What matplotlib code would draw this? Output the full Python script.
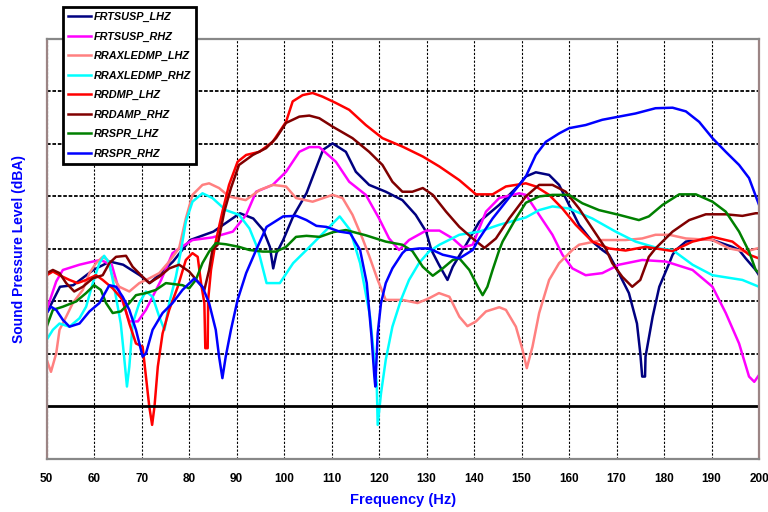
import matplotlib
matplotlib.use("Agg")
import matplotlib.pyplot as plt

plt.rcParams['font.family'] = ['Liberation Sans', 'DejaVu Sans']

# FRTSUSP_LHZ
f_frt_l = [50, 52.8, 55.6, 59.8, 63.3, 66.1, 69.6, 71.7, 73.2, 76.6, 80.2, 85.1, 90.7, 93.5, 95.6, 97.0,
           97.7, 98.4, 99.8, 101.9, 104.7, 108.2, 110.2, 113.0, 115.1, 117.9, 121.4, 124.9, 127.7, 129.9,
           131.0, 132.6, 134.4, 135.5, 137.6, 138.3, 141.1, 145.3, 149.5, 150.9, 153.0, 155.8, 157.9, 160.0,
           162.1, 164.9, 167.0, 168.4, 169.8, 172.6, 174.3, 175.0, 175.4, 176.0, 176.1, 177.6, 179.0, 181.1,
           181.8, 182.5, 184.6, 188.1, 190.2, 194.4, 195.8, 197.2, 199.3, 200]
y_frt_l = [47.8, 52.8, 53.1, 56, 57.6, 57, 55, 53.5, 54.7, 57.6, 61.7, 63.3, 66.8, 65.8, 63.6, 60.4,
           56.3, 59.2, 61.7, 66.2, 70.6, 78.9, 80.1, 78.5, 74.7, 72.2, 70.9, 69.3, 66.5, 63.3,
           59.8, 57, 54.1, 56.6, 59.8, 60.8, 65.2, 68.4, 72.2, 73.8, 74.6, 74.1, 72.2, 68.4,
           64.6, 61.4, 59.8, 58.9, 56.6, 51.6, 45.8, 40.1, 35.7, 35.7, 39.5, 47.1, 52.8, 57.3,
           58.9, 59.8, 61.4, 61.9, 61.7, 60.4, 59.8, 58.2, 56, 55]

# FRTSUSP_RHZ
f_frt_r = [50, 52, 53.4, 56.9, 59.7, 61.4, 62.8, 63.7, 65.4, 67.4, 69.2, 70.9, 72.3, 74.1, 76.5, 77.9,
           80.7, 84.9, 89.2, 92, 94.1, 97.6, 100.4, 103.2, 105.3, 107.4, 110.9, 113.7, 117.2, 120,
           122.1, 124.2, 126.3, 129.9, 132.7, 135.5, 137.6, 139.7, 142.5, 145.3, 149.5, 150.9, 153.7,
           156.5, 158.6, 160.7, 163.5, 167, 170.5, 175.4, 180.4, 186, 190.2, 193, 195.8, 197.9, 199, 200]
y_frt_r = [48.4, 53.8, 56, 57, 57.6, 57.9, 57.3, 57, 51.6, 46.2, 46.2, 48.4, 50.9, 54.1, 59.2, 60.1,
           61.7, 62.2, 63.3, 66.5, 70.9, 72.2, 74.7, 78.5, 79.4, 79.4, 76.6, 72.8, 70.3, 65.8,
           62, 59.8, 61.7, 63.5, 63.5, 62, 60.3, 60.8, 67.1, 69.7, 70.6, 70.3, 66.5,
           62.7, 58.9, 56.3, 55, 55.4, 57, 57.9, 57.6, 56, 52.8, 47.8, 42, 35.7, 34.7, 36]

# RRAXLEDMP_LHZ
f_axl_l = [50, 50.9, 52, 52.7, 54.1, 55.5, 57.6, 59, 60.4, 61.8, 62.8, 63.9, 65.3, 67.4, 69.5, 71.6,
           73.7, 75.8, 77.9, 79.3, 80.7, 82.8, 84.2, 86.3, 88.4, 91.9, 94.8, 97.6, 100.4, 102.5, 106,
           110.2, 112.3, 114.4, 116.5, 117.9, 119.7, 121.4, 124.9, 128.1, 130.5, 132.6, 134.8, 136.9,
           138.6, 140.4, 142.5, 145.3, 146.7, 148.8, 150.2, 151.1, 152.3, 153.7, 155.8, 157.9, 160.7,
           162.1, 167, 171.9, 175.4, 178.2, 181.1, 184.6, 190.2, 193.7, 197.2, 200]
y_axl_l = [38.9, 36.6, 40.1, 44.6, 47.1, 49.7, 52.2, 55.4, 57.3, 58.5, 57.9, 54.7, 52.8, 51.9, 53.5, 54.4,
           55.4, 57.6, 60.2, 65.8, 70.3, 72.2, 72.5, 71.6, 70, 69.3, 71.2, 72.2, 71.9, 69.7, 69,
           70.3, 69.7, 66.5, 62, 58.7, 54.1, 50.3, 50.3, 49.7, 50.6, 51.6, 50.9, 47.1,
           45.3, 46.2, 48.1, 48.9, 48.4, 45.2, 40.8, 37.3, 41.4, 47.8, 54.1, 57.3, 59.8,
           60.8, 61.7, 61.7, 62, 62.7, 62.7, 62, 61.7, 60.1, 59.5, 60.2]

# RRAXLEDMP_RHZ
f_axl_r = [50, 51.3, 52.7, 54.8, 56.9, 58.3, 59.7, 61.1, 62.1, 63.2, 64.2, 65.6, 66.3, 66.9, 67.4, 68.1,
           69.5, 70.9, 72.3, 73.7, 74.8, 75.8, 77.2, 78.3, 79.3, 80.7, 82.8, 84.9, 87.7, 90.5, 92.7,
           94.1, 94.9, 96.3, 99.1, 101.9, 104.7, 108.2, 111.7, 113.9, 116, 118.1, 119.5, 119.7, 120.4,
           121.4, 122.8, 124.6, 126.3, 128.4, 130.5, 132.7, 136.9, 141.1, 145.3, 150.9, 153.7, 156.5,
           160, 164.9, 169.8, 174, 178.9, 181.8, 186, 190.2, 196.5, 200]
y_axl_r = [42.7, 44.6, 45.8, 45.2, 46.8, 49, 53.5, 57.3, 58.7, 57.3, 52.8, 45.8, 39.5, 33.8, 37.6, 45.8,
           49.7, 51.9, 50.9, 47.1, 44.6, 49.7, 54.7, 59.8, 65.2, 69, 70.6, 69.7, 67.4, 66.5, 63.9,
           60.8, 58.5, 53.5, 53.5, 57.3, 59.8, 63, 66.2, 63.6, 57.3, 47.1, 34.4, 26.5, 32.5,
           38.9, 45.2, 50.3, 54.1, 57.3, 59.5, 60.8, 62.7, 63.3, 64.6, 66, 67.4, 68.1,
           67.7, 65.8, 63.3, 61.4, 60.1, 59.8, 57, 55, 54.1, 52.8]

# RRDMP_LHZ
f_dmp_l = [50, 51.3, 52.7, 54.8, 56.5, 58.3, 60.4, 61.8, 63.9, 66, 67.4, 68.8, 70.2, 70.9, 71.6, 72.2,
           72.7, 73.4, 74.4, 75.8, 77.6, 79.3, 80.7, 81.8, 82.5, 83.2, 83.4, 83.9, 84, 84.6, 85.3,
           85.6, 87, 88.4, 90.2, 92, 94.8, 97.6, 99, 100.4, 101.8, 103.9, 106, 108.1, 110.9, 113.7,
           117.2, 120.7, 124.9, 129.2, 132.7, 136.9, 140.4, 143.9, 146.7, 150.9, 153, 155.8, 158.6,
           161.4, 164.9, 168.4, 171.9, 176.1, 181.8, 186, 190.2, 194.4, 197.9, 200]
y_dmp_l = [55, 55.7, 55, 54.1, 53.5, 54.1, 55, 54.1, 52.5, 50.3, 45.8, 42, 41.4, 35.7, 30, 26.5,
           30, 37.6, 43.9, 48.4, 52.8, 57.9, 59.2, 58.5, 53.5, 49.7, 41.1, 41.1, 50.3, 56, 59.8,
           61.4, 67.1, 72.2, 76.6, 77.9, 78.5, 80.4, 82.3, 84.2, 88.1, 89.3, 89.7, 89, 87.8, 86.5,
           83.6, 81.1, 79.5, 77.6, 75.7, 73.1, 70.4, 70.4, 71.9, 72.5, 71.9, 70.3, 67.7,
           64.6, 61.4, 60.1, 59.7, 60.4, 59.6, 61.4, 62.3, 61.4, 58.9, 58.2]

# RRDAMP_RHZ
f_dmp_r = [50, 51.3, 52.7, 54.1, 55.8, 57.6, 59.7, 61.8, 63.2, 64.6, 66.7, 68.1, 70.2, 71.6, 73.7, 75.8,
           77.9, 80, 82.1, 83.2, 84.2, 84.9, 86, 87.4, 88.8, 90.5, 93.4, 96.2, 98.3, 100.4, 103.2,
           105.3, 107.4, 110.2, 114.4, 117.9, 120.7, 122.8, 124.9, 127, 129.2, 131.3, 134.1, 136.9,
           139.7, 142.2, 144.6, 147.4, 150.9, 153.7, 156.5, 159.3, 162.1, 164.9, 167.7, 169.1, 171.2,
           173.3, 175, 176.8, 178.2, 181.8, 185.3, 188.8, 193, 196.5, 199.3, 200]
y_dmp_r = [55.4, 56, 55.4, 53.5, 51.9, 52.8, 54.4, 55, 57.3, 58.5, 58.7, 56.6, 54.7, 53.5, 54.7, 56.3,
           57, 55.7, 53.5, 52.2, 56, 59.8, 60.8, 67.1, 71.6, 76, 77.9, 79.2, 81.1, 84, 85.2,
           85.4, 84.9, 83.3, 81.1, 78.5, 76, 72.8, 70.9, 70.9, 71.6, 70.3, 67.1, 64.2,
           62, 60.2, 62, 65.8, 70, 72.2, 72.2, 70.9, 67.7, 63.9, 60.1, 57.3, 54.7,
           52.8, 54.1, 58.5, 60.1, 63.3, 65.5, 66.6, 66.6, 66.3, 66.8, 66.8]

# RRSPR_LHZ
f_spr_l = [50, 51.3, 53.4, 56.2, 58.3, 60, 61.4, 62.5, 63.9, 65.6, 67.4, 68.8, 70.9, 73, 75.1, 78.6,
           80, 81.4, 82.8, 84.2, 85.6, 87.7, 90.5, 92.7, 95.5, 98.3, 100.4, 102.5, 104.7, 107.5, 110.3,
           113, 117.2, 121.4, 124.9, 127, 129.2, 131.3, 133.4, 135.5, 136.9, 139, 140.8, 141.8, 142.8,
           143.9, 145.3, 146, 148.8, 150.9, 153.7, 156.5, 160, 162.8, 166.3, 170.5, 174.7, 176.8,
           179.7, 183.2, 186.7, 190.2, 193, 195.8, 197.9, 199.3, 200]
y_spr_l = [45.2, 48.4, 49, 50, 51.6, 53.1, 52.2, 49.7, 47.8, 48.1, 49.7, 51.2, 51.6, 52.2, 53.5, 53.1,
           52.5, 54.1, 57.3, 59.5, 61.1, 60.9, 60.4, 59.8, 59.5, 59.5, 60.4, 62.3, 62.5, 62.3, 63.2,
           63.6, 62.6, 61.4, 60.8, 59.6, 56.6, 54.9, 56.3, 57.9, 58.2, 56, 52.8, 51.2, 52.8,
           56, 59.8, 61.4, 65.8, 68.8, 70, 70.3, 70.3, 68.7, 67.4, 66.5, 65.5, 66.2,
           68.4, 70.4, 70.4, 69, 67.1, 63.3, 59.5, 56, 55.5]

# RRSPR_RHZ
f_spr_r = [50, 50.9, 52, 53.4, 54.8, 56.9, 59, 61.1, 63.2, 64.6, 66, 67.4, 68.8, 70.2, 70.9, 72.3,
           74.4, 76.5, 78.6, 81.1, 82.8, 84.2, 85.6, 86.3, 87, 87.7, 88.8, 90.2, 92, 94.1, 96.3,
           99.8, 102.6, 104.7, 106.8, 108.9, 111.7, 113.9, 116, 117.4, 118.4, 119, 119.2, 119.7, 120.4,
           121.4, 122.8, 124.9, 125.6, 128.4, 130.5, 133.4, 136.9, 139.7, 141.1, 143.9, 146.7, 149.5,
           150.9, 153, 155.1, 157.9, 160, 163.5, 167, 170.5, 174, 178.2, 181.8, 184.6, 187.4, 190.2,
           193, 195.8, 197.9, 200]
y_spr_r = [47.8, 49, 48.4, 46.5, 45.2, 45.8, 48.1, 49.7, 53.1, 52.8, 50.9, 48.4, 44.6, 39.5, 40.1, 44.6,
           47.8, 49.7, 52.2, 54.4, 52.8, 49.7, 44.6, 39.5, 35.4, 39.5, 44.6, 50.3, 55.4, 59.8, 64.2,
           66.2, 66.3, 65.5, 64.4, 64.2, 63.3, 63, 59.8, 53.5, 43.3, 35.7, 33.8, 43.9, 49.7,
           53.5, 56.3, 59.2, 59.8, 60.1, 60.1, 58.9, 58.2, 59.8, 62, 65.8, 69, 72.2,
           73.8, 77.9, 80.4, 82, 83, 83.6, 84.6, 85.2, 85.8, 86.8, 86.9, 86.2, 84.2, 81.1,
           78.5, 76, 73.5, 68.4]

series = [
    ("FRTSUSP_LHZ", f_frt_l, y_frt_l, "#000080"),
    ("FRTSUSP_RHZ", f_frt_r, y_frt_r, "#FF00FF"),
    ("RRAXLEDMP_LHZ", f_axl_l, y_axl_l, "#FF8080"),
    ("RRAXLEDMP_RHZ", f_axl_r, y_axl_r, "#00FFFF"),
    ("RRDMP_LHZ", f_dmp_l, y_dmp_l, "#FF0000"),
    ("RRDAMP_RHZ", f_dmp_r, y_dmp_r, "#800000"),
    ("RRSPR_LHZ", f_spr_l, y_spr_l, "#008000"),
    ("RRSPR_RHZ", f_spr_r, y_spr_r, "#0000FF"),
]

xticks = list(range(50, 201, 10))
ygrid = [40, 50, 60, 70, 80, 90]

fig = plt.figure(figsize=(7.68, 5.12), dpi=100)
ax = fig.add_axes([0.0608, 0.1035, 0.9275, 0.8205])

for lab, f, y, c in series:
    ax.plot(f, y, color=c, lw=1.8, label=lab)

ax.set_xlim(50, 200)
ax.set_ylim(20, 100)
ax.set_xticks(xticks)
ax.set_xticklabels([str(t) for t in xticks], fontweight='bold', fontsize=8.5)
ax.set_yticks(ygrid)
ax.tick_params(axis='both', length=0)
ax.tick_params(axis='x', pad=10)
ax.tick_params(axis='y', labelleft=False)
ax.grid(axis='x', color='black', lw=0.8, linestyle=(0, (2, 1.5)))
ax.grid(axis='y', color='black', lw=1.3, linestyle=(0, (2, 1)))
ax.axhline(30, color='black', lw=2)
ax.set_axisbelow(True)

for s in ['top', 'bottom']:
    ax.spines[s].set_color('#888888')
    ax.spines[s].set_linewidth(1.6)
for s in ['left', 'right']:
    ax.spines[s].set_color('#9c8585')
    ax.spines[s].set_linewidth(1.6)

ax.set_xlabel('Frequency (Hz)', color='#0000FF', fontweight='bold', fontsize=10.5, labelpad=6)
ax.set_ylabel('Sound Pressure Level (dBA)', color='#0000FF', fontweight='bold', fontsize=10, labelpad=15)

leg = ax.legend(loc='upper left', bbox_to_anchor=(63 / 768, 1 - 7 / 512), bbox_transform=fig.transFigure,
                borderaxespad=0, fancybox=False, framealpha=1, edgecolor='black',
                prop={'weight': 'bold', 'style': 'italic', 'size': 7.8},
                labelspacing=0.87, handlelength=2.1, handletextpad=0.3, borderpad=0.45)
leg.get_frame().set_linewidth(2)
leg.set_zorder(10)

fig.savefig('out.png', dpi=100)
